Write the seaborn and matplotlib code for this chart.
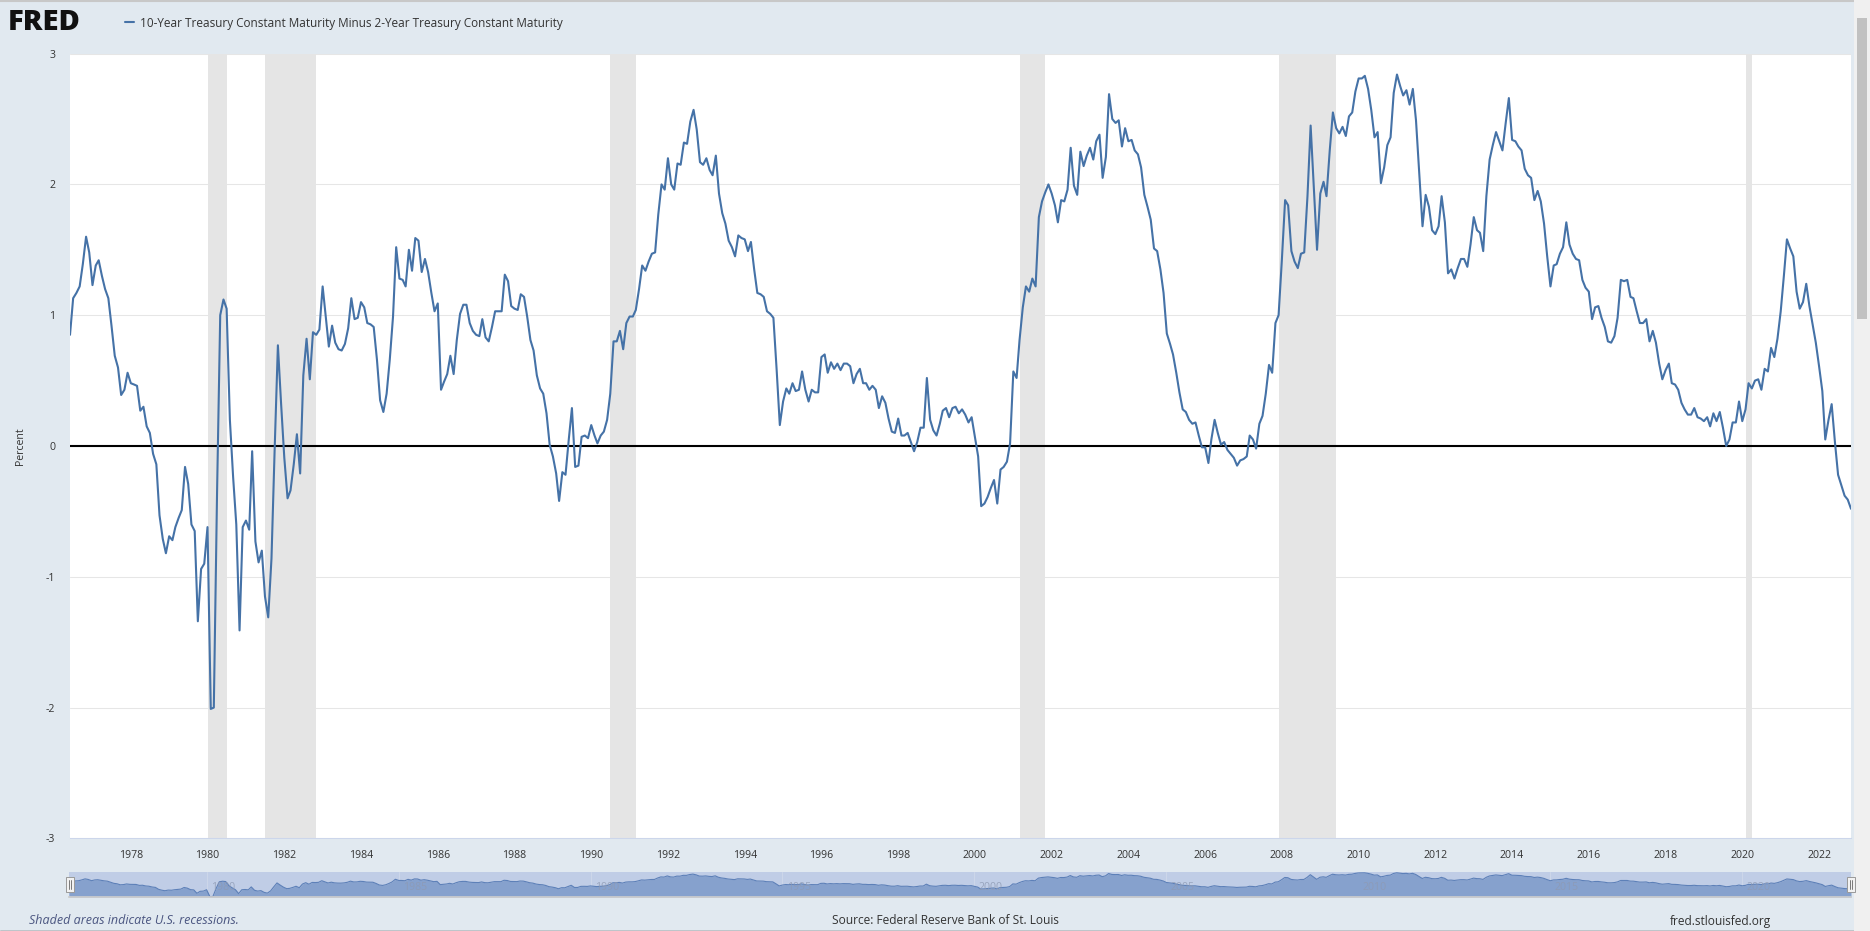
import pandas as pd
import matplotlib.pyplot as plt
import matplotlib.dates as mdates
from matplotlib.patches import Rectangle
from matplotlib.lines import Line2D
import seaborn as sns

# monthly 10y minus 2y spread (first month = start)
start = '1976-06-01'
spread = [
    0.85, 1.13, 1.17, 1.22, 1.39, 1.60, 1.48,                                   # 1976 Jun-Dec
    1.23, 1.38, 1.42, 1.30, 1.20, 1.13, 0.92, 0.69, 0.60, 0.39, 0.43, 0.56,     # 1977
    0.48, 0.47, 0.46, 0.27, 0.30, 0.15, 0.10, -0.06, -0.14, -0.53, -0.71, -0.82,
    -0.69, -0.72, -0.62, -0.55, -0.49, -0.16, -0.29, -0.60, -0.65, -1.34, -0.94, -0.90,
    -0.62, -2.01, -2.00, -0.35, 1.00, 1.12, 1.05, 0.20, -0.24, -0.60, -1.41, -0.62,  # 1980
    -0.57, -0.64, -0.04, -0.73, -0.89, -0.80, -1.15, -1.31, -0.86, -0.03, 0.77, 0.33,
    -0.09, -0.40, -0.34, -0.14, 0.09, -0.21, 0.54, 0.82, 0.51, 0.87, 0.85, 0.89,
    1.22, 0.98, 0.76, 0.92, 0.79, 0.74, 0.73, 0.78, 0.90, 1.13, 0.97, 0.98,
    1.10, 1.06, 0.94, 0.93, 0.91, 0.66, 0.35, 0.26, 0.40, 0.66, 0.99, 1.52,     # 1984
    1.28, 1.27, 1.22, 1.50, 1.34, 1.59, 1.57, 1.33, 1.43, 1.33, 1.17, 1.03,
    1.09, 0.43, 0.49, 0.55, 0.69, 0.55, 0.81, 1.01, 1.08, 1.08, 0.94, 0.88,
    0.85, 0.84, 0.97, 0.83, 0.80, 0.91, 1.03, 1.03, 1.03, 1.31, 1.26, 1.07,
    1.05, 1.04, 1.16, 1.14, 0.99, 0.81, 0.73, 0.54, 0.44, 0.40, 0.25, 0.01,     # 1988
    -0.08, -0.21, -0.42, -0.20, -0.22, 0.05, 0.29, -0.16, -0.15, 0.07, 0.08, 0.06,
    0.16, 0.08, 0.02, 0.08, 0.11, 0.20, 0.40, 0.80, 0.80, 0.88, 0.74, 0.94,
    0.99, 0.99, 1.04, 1.20, 1.38, 1.34, 1.41, 1.47, 1.48, 1.77, 2.00, 1.96,
    2.20, 2.00, 1.96, 2.16, 2.15, 2.32, 2.31, 2.48, 2.57, 2.42, 2.17, 2.15,     # 1992
    2.20, 2.11, 2.07, 2.22, 1.93, 1.78, 1.70, 1.57, 1.52, 1.45, 1.61, 1.59,
    1.58, 1.49, 1.56, 1.35, 1.17, 1.16, 1.14, 1.03, 1.01, 0.98, 0.58, 0.16,
    0.34, 0.44, 0.40, 0.48, 0.42, 0.43, 0.57, 0.43, 0.34, 0.43, 0.41, 0.41,
    0.68, 0.70, 0.56, 0.64, 0.59, 0.63, 0.58, 0.63, 0.63, 0.61, 0.48, 0.55,     # 1996
    0.59, 0.48, 0.48, 0.43, 0.46, 0.43, 0.29, 0.38, 0.33, 0.21, 0.11, 0.10,
    0.21, 0.08, 0.08, 0.10, 0.03, -0.04, 0.03, 0.14, 0.14, 0.52, 0.20, 0.12,
    0.08, 0.17, 0.27, 0.29, 0.22, 0.29, 0.30, 0.25, 0.28, 0.24, 0.18, 0.22,
    0.07, -0.08, -0.46, -0.44, -0.39, -0.32, -0.26, -0.44, -0.18, -0.16, -0.12, 0.02,  # 2000
    0.57, 0.52, 0.81, 1.06, 1.22, 1.18, 1.28, 1.22, 1.75, 1.87, 1.94, 2.00,
    1.93, 1.84, 1.71, 1.88, 1.87, 1.96, 2.28, 1.99, 1.92, 2.25, 2.14, 2.22,
    2.28, 2.19, 2.33, 2.38, 2.05, 2.21, 2.69, 2.50, 2.47, 2.49, 2.29, 2.43,
    2.33, 2.34, 2.26, 2.23, 2.13, 1.92, 1.83, 1.73, 1.51, 1.49, 1.35, 1.17,     # 2004
    0.86, 0.78, 0.70, 0.56, 0.41, 0.28, 0.26, 0.20, 0.17, 0.18, 0.08, -0.01,
    -0.01, -0.13, 0.05, 0.20, 0.10, 0.01, 0.03, -0.03, -0.06, -0.09, -0.15, -0.11,
    -0.10, -0.08, 0.08, 0.05, -0.02, 0.17, 0.23, 0.40, 0.62, 0.56, 0.94, 1.00,
    1.42, 1.88, 1.84, 1.49, 1.41, 1.36, 1.47, 1.48, 1.91, 2.45, 1.96, 1.50,     # 2008
    1.93, 2.02, 1.91, 2.26, 2.55, 2.43, 2.39, 2.44, 2.37, 2.52, 2.55, 2.71,
    2.81, 2.81, 2.83, 2.73, 2.57, 2.36, 2.40, 2.01, 2.13, 2.30, 2.36, 2.70,
    2.84, 2.75, 2.68, 2.72, 2.61, 2.73, 2.49, 2.08, 1.68, 1.92, 1.83, 1.65,
    1.62, 1.68, 1.91, 1.71, 1.32, 1.35, 1.28, 1.36, 1.43, 1.43, 1.37, 1.54,     # 2012
    1.75, 1.65, 1.63, 1.49, 1.91, 2.19, 2.30, 2.40, 2.33, 2.26, 2.47, 2.66,
    2.34, 2.33, 2.29, 2.26, 2.12, 2.07, 2.05, 1.88, 1.95, 1.87, 1.70, 1.45,
    1.22, 1.38, 1.39, 1.47, 1.52, 1.71, 1.54, 1.47, 1.43, 1.42, 1.27, 1.21,
    1.18, 0.97, 1.06, 1.07, 0.98, 0.91, 0.80, 0.79, 0.84, 0.98, 1.27, 1.26,     # 2016
    1.27, 1.14, 1.13, 1.03, 0.94, 0.94, 0.97, 0.80, 0.88, 0.79, 0.63, 0.51,
    0.58, 0.63, 0.48, 0.47, 0.43, 0.33, 0.28, 0.24, 0.24, 0.29, 0.22, 0.21,
    0.19, 0.22, 0.15, 0.25, 0.19, 0.26, 0.14, 0.00, 0.05, 0.18, 0.18, 0.34,
    0.19, 0.28, 0.48, 0.44, 0.50, 0.51, 0.43, 0.59, 0.57, 0.75, 0.68, 0.82,     # 2020
    1.03, 1.31, 1.58, 1.51, 1.45, 1.18, 1.05, 1.10, 1.24, 1.07, 0.93, 0.79,
    0.61, 0.42, 0.05, 0.20, 0.32, 0.03, -0.22, -0.30, -0.38, -0.41, -0.48,      # 2022 Jan-Nov
]

recessions = [
    ('1980-01-01', '1980-07-01'),
    ('1981-07-01', '1982-11-01'),
    ('1990-07-01', '1991-03-01'),
    ('2001-03-01', '2001-11-01'),
    ('2007-12-01', '2009-06-01'),
    ('2020-02-01', '2020-04-01'),
]
y_ticks = [-3, -2, -1, 0, 1, 2, 3]
nav_years = [1980, 1985, 1990, 1995, 2000, 2005, 2010, 2015, 2020]
series_title = '10-Year Treasury Constant Maturity Minus 2-Year Treasury Constant Maturity'

df = pd.DataFrame({'date': pd.date_range(start, periods=len(spread), freq='MS'),
                   'spread': spread})

sns.set_theme(style='white')
plt.rcParams['font.family'] = ['Open Sans', 'DejaVu Sans']

W, H = 1870, 931
BG = '#e1e9f0'
LINE = '#4572a7'
fig = plt.figure(figsize=(W / 100, H / 100), dpi=100, facecolor=BG)


def box(l, t, r, b):
    # pixel box (top-left origin) -> figure fraction rect
    return [l / W, 1 - b / H, (r - l) / W, (b - t) / H]


def fx(px):
    return px / W


def fy(py):
    return 1 - py / H


# main chart
ax = fig.add_axes(box(70, 53.6, 1851, 838.4))
for s, e in recessions:
    ax.axvspan(pd.Timestamp(s), pd.Timestamp(e), color='#e5e5e5', lw=0, zorder=1)
ax.axhline(0, color='black', lw=1.5, zorder=2)
sns.lineplot(data=df, x='date', y='spread', ax=ax, color=LINE, lw=1.5, zorder=3)
series_line = ax.lines[-1]

ax.set_xlim(df['date'].iloc[0], df['date'].iloc[-1])
ax.set_ylim(-3, 3)
ax.set_yticks(y_ticks)
ax.set_yticklabels([str(v) for v in y_ticks])
ax.set_axisbelow(True)
ax.grid(axis='y', color='#e6e6e6', lw=0.75)
ax.grid(axis='x', visible=False)
ax.xaxis.set_major_locator(mdates.YearLocator(2))
ax.xaxis.set_major_formatter(mdates.DateFormatter('%Y'))
ax.tick_params(axis='x', length=5, width=0.75, color='#ccd6eb', pad=3,
               labelsize=7.6, labelcolor='#333333')
ax.tick_params(axis='y', length=0, pad=10.5, labelsize=7.6, labelcolor='#333333')
for side in ['top', 'right', 'left']:
    ax.spines[side].set_visible(False)
ax.spines['bottom'].set_color('#ccd6eb')
ax.spines['bottom'].set_linewidth(0.75)
ax.set_xlabel('')
ax.set_ylabel('')
ax.set_facecolor('white')

fig.text(fx(20), fy(446), 'Percent', rotation=90, fontsize=7.6, color='#333333',
         ha='center', va='center')

# navigator strip
nav = fig.add_axes(box(69, 872, 1851, 897))
nav.set_facecolor('#c0cde6')
nav.fill_between(df['date'], df['spread'], -2.1, color='#86a1cd', lw=0, zorder=1)
sns.lineplot(data=df, x='date', y='spread', ax=nav, color='#5d80b8', lw=0.8, zorder=2)
nav.set_xlim(df['date'].iloc[0], df['date'].iloc[-1])
nav.set_ylim(-2.1, 3.0)
for yr in nav_years:
    d = pd.Timestamp(f'{yr}-01-01')
    nav.axvline(d, color='#cdd7ea', lw=0.7, zorder=0.5)
    nav.annotate(str(yr), (d, 0.36), xycoords=('data', 'axes fraction'),
                 xytext=(3, 0), textcoords='offset points', fontsize=7.6,
                 color='#8e9ab3', alpha=0.8, ha='left', va='center', zorder=3)
nav.set_xticks([])
nav.set_yticks([])
nav.set_xlabel('')
nav.set_ylabel('')
for side in ['top', 'right', 'left']:
    nav.spines[side].set_visible(False)
nav.spines['bottom'].set_color('#cccccc')

for hx in [65.5, 1847]:
    fig.add_artist(Rectangle((fx(hx), fy(892)), 8 / W, 15 / H, transform=fig.transFigure,
                             facecolor='#f2f2f2', edgecolor='#999999', lw=0.7, zorder=5))
    for gx in [hx + 3, hx + 5]:
        fig.add_artist(Line2D([fx(gx), fx(gx)], [fy(889), fy(880)], transform=fig.transFigure,
                              color='#666666', lw=0.6, zorder=6))

# header
fig.add_artist(Line2D([0, 1], [fy(0.5), fy(0.5)], transform=fig.transFigure,
                      color='#c8c8c8', lw=1.5))
fig.text(fx(8), fy(23), 'FRED', fontsize=21, fontweight='heavy', color='#111111',
         ha='left', va='center')
fig.legend(handles=[series_line], labels=[series_title], loc='center left',
           bbox_to_anchor=(fx(125), fy(23)), frameon=False, fontsize=8.5,
           handlelength=0.8, handletextpad=0.5, borderaxespad=0, borderpad=0,
           labelcolor='#333333')

# footer
fig.text(fx(29), fy(921), 'Shaded areas indicate U.S. recessions.', style='italic',
         fontsize=9, color='#4a5580', ha='left', va='center')
fig.text(fx(945), fy(921), 'Source: Federal Reserve Bank of St. Louis', fontsize=8.6,
         color='#333333', ha='center', va='center')
fig.text(fx(1771), fy(921), 'fred.stlouisfed.org', fontsize=8.6, color='#333333',
         ha='right', va='center')
fig.add_artist(Line2D([0, 1], [fy(930.5), fy(930.5)], transform=fig.transFigure,
                      color='#333333', lw=1))

# page scrollbar on the right
fig.add_artist(Rectangle((fx(1854), 0), 16 / W, 1, transform=fig.transFigure,
                         facecolor='#f0f0f0', lw=0, zorder=4))
fig.add_artist(Rectangle((fx(1857), fy(319)), 10 / W, 301 / H, transform=fig.transFigure,
                         facecolor='#c1c1c1', lw=0, zorder=5))

fig.savefig('out.png', dpi=100, facecolor=fig.get_facecolor())
